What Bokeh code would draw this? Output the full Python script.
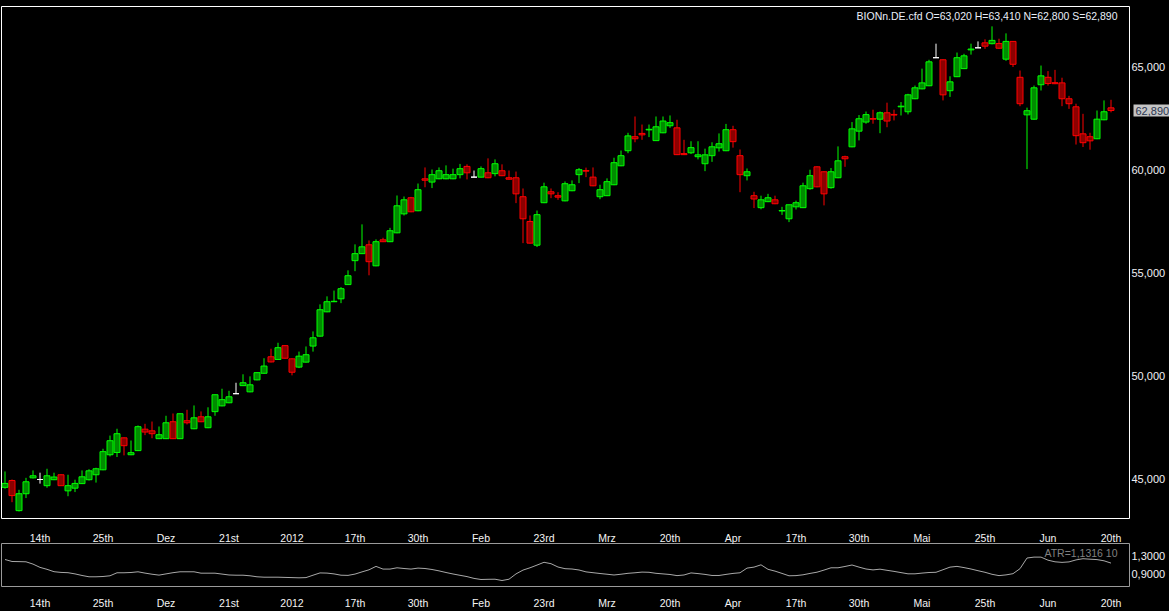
from bokeh.plotting import figure
from bokeh.layouts import column, row
from bokeh.models import ColumnDataSource, Range1d, FixedTicker, Label
from bokeh.core.properties import value
from bokeh.embed import file_html
from bokeh.resources import INLINE

# ---------------- data ----------------
symbol = "BIONn.DE.cfd"

opens = [
    44.62, 44.95, 43.49, 44.31, 45.08, 45.00, 44.70, 44.99, 45.23, 44.45,
    44.58, 44.80, 44.99, 45.23, 45.47, 46.20, 46.31, 47.02, 46.20, 46.40,
    47.44, 47.36, 46.98, 46.98, 47.80, 46.98, 47.85, 47.46, 48.04, 47.51,
    48.29, 48.57, 48.72, 49.16, 49.55, 49.25, 49.83, 50.15, 50.95, 50.82,
    51.49, 50.85, 50.45, 50.69, 51.47, 51.95, 53.13, 53.62, 53.76, 54.45,
    55.61, 55.95, 56.38, 55.36, 56.62, 56.53, 56.96, 57.88, 58.66, 58.03,
    59.58, 59.42, 59.58, 59.58, 59.58, 59.78, 60.18, 59.66, 59.66, 59.87,
    59.83, 59.97, 59.63, 59.63, 58.71, 57.51, 56.36, 58.42, 58.95, 58.76,
    58.51, 59.00, 59.78, 59.98, 59.66, 58.71, 58.76, 59.29, 60.21, 60.94,
    61.62, 61.78, 61.95, 61.43, 61.81, 62.15, 62.05, 60.80, 60.84, 60.65,
    60.31, 60.70, 61.08, 60.94, 61.96, 60.70, 59.73, 58.76, 58.18, 58.47,
    58.56, 58.02, 57.64, 58.22, 58.18, 59.10, 60.16, 59.92, 59.15, 59.63,
    60.65, 61.13, 61.89, 62.33, 62.50, 62.47, 62.78, 62.70, 63.07, 62.83,
    63.46, 63.94, 64.09, 65.45, 65.35, 63.85, 64.53, 64.92, 65.83, 65.93,
    66.17, 66.13, 66.14, 65.38, 66.24, 64.50, 62.68, 62.47, 64.14, 64.50,
    64.24, 64.23, 63.46, 63.07, 61.76, 61.62, 61.52, 62.44, 63.02,
]
highs = [
    45.39, 45.00, 44.50, 45.08, 45.44, 45.33, 45.52, 45.33, 45.25, 45.23,
    44.99, 45.44, 45.50, 45.57, 46.49, 47.13, 47.46, 47.04, 46.89, 47.62,
    47.70, 47.81, 47.57, 48.09, 48.20, 48.20, 48.38, 48.59, 48.30, 48.50,
    49.12, 49.40, 49.30, 49.69, 50.10, 50.00, 50.20, 50.88, 51.34, 51.63,
    51.51, 50.87, 51.20, 51.45, 52.18, 53.49, 53.88, 54.16, 54.33, 55.14,
    56.40, 57.37, 56.59, 56.64, 56.72, 57.20, 58.77, 58.72, 58.70, 59.35,
    60.13, 60.03, 60.13, 60.23, 60.07, 60.30, 60.28, 59.98, 60.18, 60.57,
    60.52, 60.28, 59.98, 59.93, 59.11, 57.80, 58.04, 59.39, 59.11, 58.93,
    59.45, 59.50, 60.10, 60.12, 60.13, 59.29, 59.60, 60.60, 60.95, 61.81,
    62.60, 62.21, 62.21, 62.60, 62.60, 62.65, 62.44, 61.47, 61.40, 61.40,
    61.04, 61.35, 61.78, 62.24, 62.15, 61.00, 60.08, 58.95, 58.76, 58.85,
    58.76, 58.22, 58.32, 58.52, 59.39, 60.02, 60.18, 59.94, 60.10, 61.15,
    60.70, 62.33, 62.67, 62.84, 62.93, 62.84, 63.27, 62.93, 63.30, 63.70,
    64.10, 64.92, 65.35, 66.13, 65.37, 64.55, 65.70, 65.64, 66.13, 66.24,
    66.34, 66.97, 66.37, 66.63, 66.26, 64.83, 63.03, 64.10, 65.07, 64.80,
    64.86, 64.48, 63.60, 63.22, 62.73, 61.81, 62.89, 63.38, 63.41,
]
lows = [
    44.55, 43.90, 43.45, 44.10, 45.05, 44.80, 44.60, 44.97, 44.70, 44.19,
    44.39, 44.78, 44.95, 44.85, 45.45, 46.12, 46.09, 46.17, 46.18, 46.38,
    47.15, 47.00, 46.96, 46.96, 46.96, 46.96, 47.67, 47.44, 47.78, 47.49,
    48.09, 48.55, 48.70, 49.16, 49.53, 49.23, 49.81, 50.13, 50.68, 50.80,
    50.86, 50.05, 50.40, 50.67, 51.20, 51.93, 53.11, 53.60, 53.55, 54.43,
    55.10, 55.93, 54.90, 55.34, 56.51, 56.51, 56.94, 57.80, 57.96, 58.01,
    59.17, 59.13, 59.56, 59.56, 59.56, 59.60, 59.55, 59.66, 59.64, 59.61,
    59.70, 59.71, 59.54, 58.40, 56.46, 56.44, 56.27, 58.40, 58.64, 58.56,
    58.49, 58.98, 59.37, 59.66, 59.22, 58.59, 58.74, 59.27, 60.19, 60.82,
    61.35, 61.47, 61.60, 61.41, 61.79, 62.05, 60.73, 60.73, 60.78, 60.52,
    59.95, 60.40, 60.90, 60.92, 61.09, 58.93, 59.50, 58.16, 58.10, 58.45,
    58.35, 57.83, 57.48, 58.09, 58.16, 59.05, 59.17, 58.29, 59.10, 59.61,
    60.16, 61.11, 61.44, 62.25, 62.25, 61.79, 62.08, 62.41, 62.65, 62.70,
    63.44, 63.92, 64.07, 65.45, 63.38, 63.55, 64.51, 64.90, 65.60, 65.93,
    65.88, 66.10, 65.89, 65.30, 65.00, 63.10, 60.05, 62.45, 63.86, 64.10,
    64.17, 63.10, 62.97, 61.24, 61.12, 60.99, 61.50, 62.42, 62.80,
]
closes = [
    44.81, 44.22, 44.31, 44.89, 45.18, 45.00, 45.18, 45.12, 44.70, 44.70,
    44.81, 45.13, 45.42, 45.52, 46.35, 46.88, 47.22, 46.64, 46.30, 47.56,
    47.30, 47.22, 47.17, 47.75, 46.98, 48.19, 47.75, 47.99, 47.80, 48.04,
    49.11, 48.87, 49.01, 49.16, 49.69, 49.59, 50.18, 50.50, 50.70, 51.39,
    50.88, 50.20, 50.98, 51.05, 51.87, 53.23, 53.62, 53.64, 54.25, 54.88,
    55.95, 56.28, 55.56, 56.53, 56.53, 57.06, 58.27, 58.56, 57.98, 59.05,
    59.51, 59.78, 59.97, 59.78, 59.78, 60.07, 59.87, 59.66, 60.07, 59.63,
    60.31, 59.73, 59.56, 58.85, 57.64, 56.46, 57.84, 59.19, 58.85, 58.69,
    59.34, 59.29, 60.02, 59.95, 59.24, 59.05, 59.44, 60.36, 60.70, 61.66,
    61.52, 61.71, 61.98, 62.10, 62.38, 62.30, 60.75, 60.75, 61.09, 60.74,
    60.74, 61.13, 61.28, 61.96, 61.38, 59.78, 59.92, 58.60, 58.56, 58.66,
    58.37, 58.04, 58.32, 58.42, 59.24, 59.73, 59.19, 58.85, 59.92, 60.45,
    60.55, 62.00, 62.49, 62.69, 62.47, 62.78, 62.38, 62.67, 63.10, 63.65,
    63.99, 64.23, 65.25, 65.45, 63.65, 64.28, 65.45, 65.54, 65.87, 65.93,
    66.01, 66.29, 65.91, 66.24, 65.13, 63.22, 62.88, 63.99, 64.57, 64.20,
    64.19, 63.46, 63.22, 61.67, 61.33, 61.42, 62.47, 62.83, 62.89,
]
atr = [
    1.211, 1.167, 1.164, 1.160, 1.109, 1.036, 0.993, 0.940, 0.924, 0.918,
    0.891, 0.856, 0.827, 0.827, 0.833, 0.849, 0.916, 0.916, 0.922, 0.938,
    0.909, 0.884, 0.864, 0.891, 0.918, 0.938, 0.938, 0.938, 0.907, 0.907,
    0.907, 0.887, 0.867, 0.862, 0.862, 0.849, 0.827, 0.818, 0.818, 0.818,
    0.813, 0.809, 0.804, 0.809, 0.862, 0.913, 0.909, 0.891, 0.862, 0.858,
    0.887, 0.936, 0.982, 1.058, 0.998, 0.998, 1.027, 1.011, 0.998, 1.020,
    1.011, 0.989, 0.958, 0.922, 0.889, 0.860, 0.831, 0.791, 0.767, 0.771,
    0.773, 0.744, 0.773, 0.891, 0.976, 1.027, 1.087, 1.149, 1.118, 1.044,
    1.007, 1.000, 0.978, 0.936, 0.918, 0.900, 0.884, 0.867, 0.884, 0.904,
    0.916, 0.931, 0.927, 0.904, 0.891, 0.878, 0.853, 0.867, 0.913, 0.898,
    0.880, 0.856, 0.856, 0.880, 0.902, 0.916, 1.020, 1.042, 1.093, 0.993,
    0.953, 0.902, 0.849, 0.853, 0.871, 0.902, 0.929, 0.976, 1.027, 1.027,
    1.056, 1.089, 1.042, 1.000, 0.980, 0.996, 0.971, 0.947, 0.920, 0.893,
    0.893, 0.909, 0.922, 0.927, 0.984, 1.042, 1.058, 1.031, 1.000, 0.962,
    0.927, 0.882, 0.853, 0.869, 0.896, 1.007, 1.244, 1.264, 1.264, 1.196,
    1.160, 1.147, 1.158, 1.202, 1.229, 1.218, 1.209, 1.182, 1.1316,
]
atr_period = 10

date_labels = ["14th", "25th", "Dez", "21st", "2012", "17th", "30th", "Feb", "23rd",
               "Mrz", "20th", "Apr", "17th", "30th", "Mai", "25th", "Jun", "20th"]
date_ticks = list(range(5, 5 + 9 * len(date_labels), 9))
price_ticks = [45, 50, 55, 60, 65]
atr_ticks = [0.9, 1.3]


def de(v, nd):
    return f"{v:.{nd}f}".replace(".", ",")


# ---------------- styling ----------------
FONT = "Liberation Sans"
GREEN_LINE, GREEN_FILL = "#00ff00", "#008c00"
RED_LINE, RED_FILL = "#ff0000", "#8c0000"
WHITE = "#ffffff"
LABEL_COLOR = "#f0f0f4"

n = len(closes)
idx = list(range(n))
line_c, fill_c, tops, bots = [], [], [], []
for o, c in zip(opens, closes):
    if c > o:
        line_c.append(GREEN_LINE); fill_c.append(GREEN_FILL)
    elif c < o:
        line_c.append(RED_LINE); fill_c.append(RED_FILL)
    else:
        line_c.append(WHITE); fill_c.append(WHITE)
    tops.append(max(o, c)); bots.append(min(o, c))

src = ColumnDataSource(dict(x=idx, open=opens, high=highs, low=lows, close=closes,
                            top=tops, bottom=bots, line=line_c, fill=fill_c))

W = 1169
BORDER_L, BORDER_R = 1, 40
BAR_PX = 7
x_start = -0.5
x_end = x_start + (W - BORDER_L - BORDER_R) / BAR_PX
xr = Range1d(x_start, x_end)

common = dict(toolbar_location=None, output_backend="svg",
              background_fill_color="black", border_fill_color="black")


def style_xaxis(ax, standoff):
    ax.ticker = FixedTicker(ticks=date_ticks)
    ax.major_label_overrides = {t: lab for t, lab in zip(date_ticks, date_labels)}
    ax.major_tick_line_color = None
    ax.minor_tick_line_color = None
    ax.major_tick_in = 0
    ax.major_tick_out = 0
    ax.axis_line_color = None
    ax.major_label_standoff = standoff
    ax.major_label_text_color = "#f4f4f4"
    ax.major_label_text_font = FONT
    ax.major_label_text_font_size = "10.5px"


def style_yaxis(ax, ticks, nd):
    ax.ticker = FixedTicker(ticks=ticks)
    ax.major_label_overrides = {t: de(t, nd) for t in ticks}
    ax.major_tick_line_color = None
    ax.minor_tick_line_color = None
    ax.major_tick_in = 0
    ax.major_tick_out = 0
    ax.axis_line_color = None
    ax.major_label_standoff = 2
    ax.major_label_text_color = LABEL_COLOR
    ax.major_label_text_font = FONT
    ax.major_label_text_font_size = "11px"


def strip(w, h, fill, outline):
    s = figure(width=w, height=h, x_range=Range1d(0, 1), y_range=Range1d(0, 1),
               x_axis_location=None, y_axis_location=None, min_border=0,
               outline_line_color=outline, toolbar_location=None, output_backend="svg",
               background_fill_color=fill, border_fill_color=fill)
    s.xgrid.visible = False
    s.ygrid.visible = False
    return s


# ---------------- top chrome strip ----------------
s0 = strip(W, 6, "#e6e6e6", None)

# ---------------- main price panel ----------------
y_lo, y_hi = 43.109, 67.933
yr = Range1d(y_lo, y_hi)
p1 = figure(width=W - BORDER_R + 1, height=515, x_range=xr, y_range=yr,
            x_axis_location=None, y_axis_location=None,
            min_border_left=BORDER_L, min_border_right=1,
            min_border_top=0, min_border_bottom=3,
            outline_line_color="white", **common)
p1.xgrid.visible = False
p1.ygrid.visible = False
p1.segment(x0="x", y0="high", x1="x", y1="low", line_color="line", line_width=1, source=src)
p1.vbar(x="x", width=6 / BAR_PX, top="top", bottom="bottom", fill_color="fill",
        line_color="line", line_width=1, source=src)

header = (f"{symbol} O={de(opens[-1], 3)} H={de(highs[-1], 3)} "
          f"N={de(lows[-1], 3)} S={de(closes[-1], 3)}")
p1.add_layout(Label(x=x_end, y=y_hi, x_offset=-12, y_offset=-3, text=header,
                    text_align="right", text_baseline="top", text_color="#e8eef8",
                    text_font=FONT, text_font_size="10.5px"))

# price scale panel (shares the price range)
pr = figure(width=BORDER_R - 1, height=515, x_range=Range1d(0, 1), y_range=yr,
            x_axis_location=None, y_axis_location=None, min_border_left=0,
            min_border_right=0, min_border_top=0, min_border_bottom=3,
            outline_line_color=None, **common)
pr.xgrid.visible = False
pr.ygrid.visible = False
pr.text(x=[0] * len(price_ticks), y=price_ticks, text=[de(t, 3) for t in price_ticks],
        x_offset=1, text_align="left", text_baseline="middle", text_color=LABEL_COLOR,
        text_font=value(FONT), text_font_size=value("11px"))
pr.add_layout(Label(x=0, y=closes[-1], x_offset=3, text=de(closes[-1], 3),
                    text_align="left", text_baseline="middle", text_color="#2a3550",
                    background_fill_color="#c4c4c4", padding=2, text_font=FONT,
                    text_font_size="11px"))

s1 = strip(1130, 5, "black", "white")

# ---------------- ATR panel ----------------
a_lo, a_hi = 0.6111, 1.5667
p2 = figure(width=W, height=66, x_range=xr, y_range=Range1d(a_lo, a_hi),
            x_axis_location="above", y_axis_location="right",
            min_border_left=BORDER_L, min_border_right=BORDER_R,
            min_border_top=17, min_border_bottom=6,
            outline_line_color="#9a9a9a", **common)
p2.xgrid.visible = False
p2.ygrid.visible = False
p2.line(idx, atr, line_color="#a8a8a8", line_width=1)
style_xaxis(p2.xaxis[0], 0)
style_yaxis(p2.yaxis[0], atr_ticks, 4)
p2.add_layout(Label(x=x_end, y=a_hi, x_offset=-12, y_offset=-3,
                    text=f"ATR={de(atr[-1], 4)} {atr_period}",
                    text_align="right", text_baseline="top", text_color="#808080",
                    text_font=FONT, text_font_size="10.5px"))

s2 = strip(1130, 4, "black", "white")

# ---------------- bottom date axis ----------------
p3 = figure(width=W, height=15, x_range=xr, y_range=Range1d(0, 1),
            x_axis_location="below", y_axis_location=None,
            min_border_left=BORDER_L, min_border_right=BORDER_R,
            min_border_top=0, min_border_bottom=14,
            outline_line_color=None, **common)
p3.xgrid.visible = False
p3.ygrid.visible = False
style_xaxis(p3.xaxis[0], -1)

layout = column(s0, row(p1, pr, spacing=0), s1, p2, s2, p3, spacing=0)

html = file_html(layout, INLINE)
html = html.replace("</head>",
                    "<style>html,body{margin:0 !important;padding:0;background:#000;overflow:hidden;}</style></head>", 1)
open("out.html", "w").write(html)
